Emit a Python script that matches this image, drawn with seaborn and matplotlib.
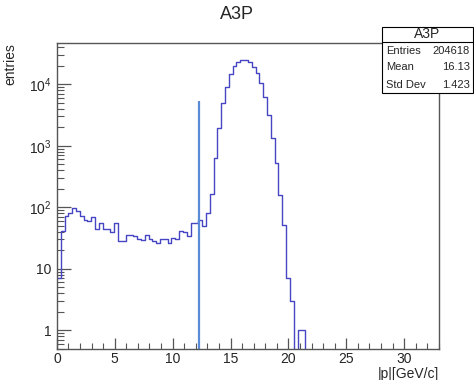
import numpy as np
import pandas as pd
import matplotlib
matplotlib.use("Agg")
import matplotlib.pyplot as plt
import seaborn as sns
from matplotlib.ticker import MultipleLocator, LogLocator, FixedLocator, FuncFormatter, NullFormatter

# histogram: 100 bins of 0.33 GeV/c from 0 to 33
bin_edges = [round(i * 0.33, 2) for i in range(101)]
counts = [7, 41, 72, 81, 98, 86, 72, 63, 59, 69,
          45, 56, 45, 45, 39, 56, 28, 28, 36, 36,
          34, 30, 29, 35, 30, 28, 26, 31, 31, 26,
          32, 30, 41, 39, 34, 56, 56, 63, 50, 81,
          164, 631, 1982, 4920, 9160, 14520, 19820, 23010, 24830, 24830,
          22760, 19320, 15070, 10380, 6310, 3184, 1330, 524, 157, 52,
          7, 3, 0, 1, 1] + [0] * 35
marker_x = 12.25
marker_top = 5370

stats_name = "A3P"
stats_rows = [("Entries", "204618"), ("Mean", "16.13"), ("Std Dev", "1.423")]

edges = np.array(bin_edges)
df = pd.DataFrame({"p": (edges[:-1] + edges[1:]) / 2, "n": counts})

sns.set_style("white")
plt.rcParams["font.family"] = ["Liberation Sans", "DejaVu Sans"]
plt.rcParams["mathtext.fontset"] = "custom"
plt.rcParams["mathtext.rm"] = "Liberation Sans"

fig = plt.figure(figsize=(4.74, 3.80), dpi=100)
ax = fig.add_axes([0.120, 0.082, 0.806, 0.805])

sns.histplot(data=df, x="p", weights="n", bins=bin_edges, element="step",
             fill=False, color="#4646c4", linewidth=1.0, ax=ax)
ax.set_yscale("log", nonpositive="clip")
ax.vlines(marker_x, 0.5, marker_top, color="#5b8ad6", linewidth=1.6)

ax.set_xlim(0, 33)
ax.set_ylim(0.5, 47000)

for s in ax.spines.values():
    s.set_color("#555555")
    s.set_linewidth(1.0)

ax.xaxis.set_major_locator(MultipleLocator(5))
ax.xaxis.set_minor_locator(MultipleLocator(1))
ax.yaxis.set_major_locator(FixedLocator([1, 10, 100, 1000, 10000]))
ax.yaxis.set_minor_locator(LogLocator(base=10, subs=np.arange(2, 10)))
ax.yaxis.set_minor_formatter(NullFormatter())


def ylab(v, pos):
    e = int(round(np.log10(v)))
    if e == 0:
        return "1"
    if e == 1:
        return "10"
    return r"$10^{%d}$" % e


ax.yaxis.set_major_formatter(FuncFormatter(ylab))
ax.tick_params(which="both", direction="in", bottom=True, left=True,
               top=False, right=False, labelsize=10, color="#555555")
ax.tick_params(which="major", axis="y", length=10, width=0.9, pad=4)
ax.tick_params(which="minor", axis="y", length=5, width=0.8)
ax.tick_params(which="major", axis="x", length=8, width=0.9, pad=2)
ax.tick_params(which="minor", axis="x", length=4, width=0.8)

ax.set_xlabel("|p|[GeV/c]", fontsize=10, loc="right", labelpad=1)
ax.set_ylabel("entries", fontsize=10, loc="top", labelpad=8)
fig.text(0.5, 0.963, "A3P", ha="center", va="center", fontsize=13)

# stats box
x0, x1 = 382 / 474, 473 / 474
yt, yb = 1 - 27 / 380, 1 - 93 / 380
ysep = 1 - 42 / 380
fig.add_artist(plt.Rectangle((x0, yb), x1 - x0, yt - yb, transform=fig.transFigure,
                             facecolor="white", edgecolor="black", linewidth=0.8))
fig.add_artist(plt.Line2D([x0, x1], [ysep, ysep], transform=fig.transFigure,
                          color="black", linewidth=0.8))
fig.text((x0 + x1) / 2, 1 - 34.5 / 380, stats_name, ha="center", va="center", fontsize=10)
for i, (k, v) in enumerate(stats_rows):
    yy = 1 - (50.5 + 17 * i) / 380
    fig.text(386 / 474, yy, k, ha="left", va="center", fontsize=8)
    fig.text(470 / 474, yy, v, ha="right", va="center", fontsize=8)

fig.savefig("out.png", dpi=100)
